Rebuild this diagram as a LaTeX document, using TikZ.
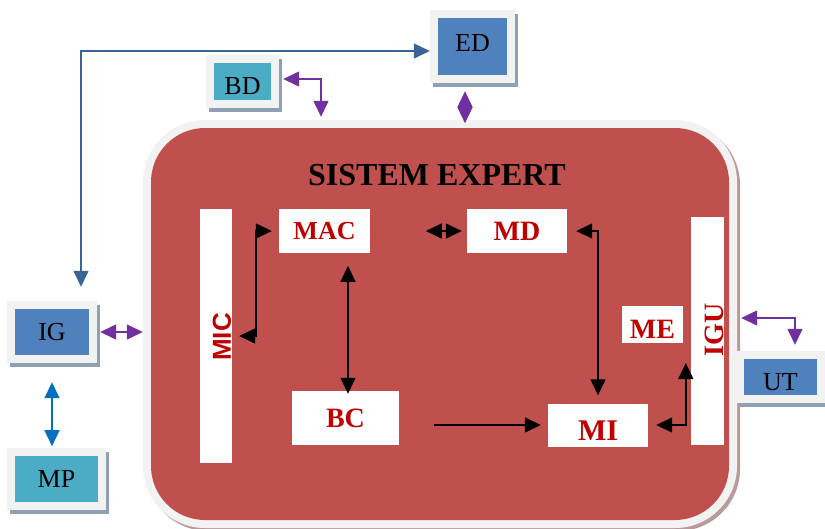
\documentclass[tikz,border=0pt]{standalone}
\usepackage{fontspec}
\setmainfont{Liberation Serif}
\setsansfont{Liberation Sans}
\usetikzlibrary{arrows.meta,shadows}
\definecolor{sered}{HTML}{C0504D}
\definecolor{seframe}{HTML}{F2F2F2}
\definecolor{seshadow}{HTML}{8FA0B2}
\definecolor{sesysshadow}{HTML}{B89A9A}
\definecolor{seblue}{HTML}{4F81BD}
\definecolor{seteal}{HTML}{4BACC6}
\definecolor{sepurple}{HTML}{7030A0}
\definecolor{selink}{HTML}{3A6397}
\definecolor{sebright}{HTML}{0070C0}
\definecolor{setxt}{HTML}{C00000}
\tikzset{
  sesys/.style={fill=seframe, inner sep=0pt, minimum width=594pt, minimum height=408pt,
    rounded corners=62pt,
    drop shadow={shadow xshift=3pt, shadow yshift=-3pt, fill=sesysshadow, opacity=1},
    path picture={\fill[sered, rounded corners=54pt]
      ([shift={(8pt,-8pt)}]path picture bounding box.north west) rectangle
      ([shift={(-8pt,8pt)}]path picture bounding box.south east);}},
  seext/.style={fill=seframe, inner sep=0pt, font=\fontsize{26}{28}\selectfont,
    drop shadow={shadow xshift=3pt, shadow yshift=-4pt, fill=seshadow, opacity=1},
    path picture={\fill[#1]
      ([shift={(8pt,-8pt)}]path picture bounding box.north west) rectangle
      ([shift={(-8pt,8pt)}]path picture bounding box.south east);}},
  sebox/.style={fill=white, inner sep=0pt, text=setxt,
    font=\bfseries\fontsize{28}{30}\selectfont},
  sebar/.style={fill=white, inner sep=0pt},
  searr/.style={{Triangle[length=16pt,width=15pt]}-{Triangle[length=16pt,width=15pt]},
    line width=1.4pt, draw=black},
  searrone/.style={-{Triangle[length=16pt,width=15pt]}, line width=1.4pt, draw=black},
  sepurarr/.style={{Triangle[length=16pt,width=15pt]}-{Triangle[length=16pt,width=15pt]},
    line width=1.4pt, draw=sepurple},
  sebluearr/.style={{Triangle[length=16pt,width=15pt]}-{Triangle[length=16pt,width=15pt]},
    line width=1.4pt, draw=#1},
}
\begin{document}
\begin{tikzpicture}[x=1pt, y=-1pt]
  \useasboundingbox (0,0) rectangle (825,528);
  % expert system frame
  \node[sesys] (sys) at (440,324) {};
  \node[font=\bfseries\fontsize{32}{34}\selectfont] (title) at (437,175) {SISTEM EXPERT};
  % inner modules
  \node[sebar, minimum width=32pt, minimum height=254pt] (MIC) at (216,336) {};
  \node[sebox, text=setxt, font=\sffamily\bfseries\fontsize{26}{28}\selectfont, rotate=90] (MIClbl) at (222,337) {MIC};
  \node[sebox, minimum width=91pt, minimum height=44pt, font=\bfseries\fontsize{26}{28}\selectfont] (MAC) at (324.5,231) {MAC};
  \node[sebox, minimum width=100pt, minimum height=44pt] (MD) at (517,231) {MD};
  \node[sebar, minimum width=33pt, minimum height=228pt] (IGU) at (707.5,331) {};
  \node[sebox, rotate=90] (IGUlbl) at (714,330) {IGU};
  \node[sebox, minimum width=61pt, minimum height=37pt, text height=28pt, text depth=0pt] (ME) at (652.5,324.5) {ME};
  \node[sebox, minimum width=100pt, minimum height=43pt, font=\bfseries\fontsize{30}{32}\selectfont,
    text height=30pt, text depth=0pt] (MI) at (598,425) {MI};
  \node[sebox, minimum width=107pt, minimum height=54pt] (BC) at (345.5,418) {BC};
  % outer blocks
  \node[seext=seblue, minimum width=85pt, minimum height=73pt, text height=17pt, text depth=8pt] (ED) at (472.5,46.5) {ED};
  \node[seext=seteal, minimum width=73pt, minimum height=53pt, text height=26pt, text depth=0pt] (BD) at (242.5,81.5) {BD};
  \node[seext=seblue, minimum width=90pt, minimum height=62pt] (IG) at (52,332) {IG};
  \node[seext=seteal, minimum width=99pt, minimum height=62pt] (MP) at (56.5,479) {MP};
  \node[seext=seblue, minimum width=89pt, minimum height=52pt, text height=26pt, text depth=0pt] (UT) at (780.5,377) {UT};
  % links outside
  \draw[sebluearr=selink] ([shift={(29pt,14pt)}]IG.north) |- ([yshift=-4.5pt]ED.west);
  \draw[sebluearr=sebright] ([yshift=-19pt]IG.south) -- ++(0,64);
  \draw[sepurarr] ([shift={(4pt,2.5pt)}]BD.east) -| ([shift={(-119pt,3pt)}]sys.north);
  \draw[sepurarr] ([shift={(-7.5pt,-8pt)}]ED.south) -- ++(0,32);
  \draw[sepurarr] ([xshift=3pt]IG.east) -- (IG.east -| sys.west);
  \draw[sepurarr] ([shift={(17pt,13pt)}]IGU.east) -| ([shift={(14.5pt,6pt)}]UT.north);
  % links inside
  \draw[searr] ([xshift=7pt]MIC.east) -| ([xshift=-23pt]MAC.west) -- ([xshift=-7pt]MAC.west);
  \draw[searr] ([shift={(2.5pt,-3pt)}]BC.north) -- ++(0,-128);
  \draw[searr] ([xshift=-5pt]MD.west) -- ++(-36,0);
  \draw[searr] ([xshift=9pt]MD.east) -| ([yshift=8pt]MI.north);
  \draw[searrone] ([xshift=-114pt]MI.west) -- ([xshift=-7pt]MI.west);
  \draw[searr] ([xshift=8pt]MI.east) -| ([shift={(-5pt,-32pt)}]IGU.west);
\end{tikzpicture}
\end{document}
